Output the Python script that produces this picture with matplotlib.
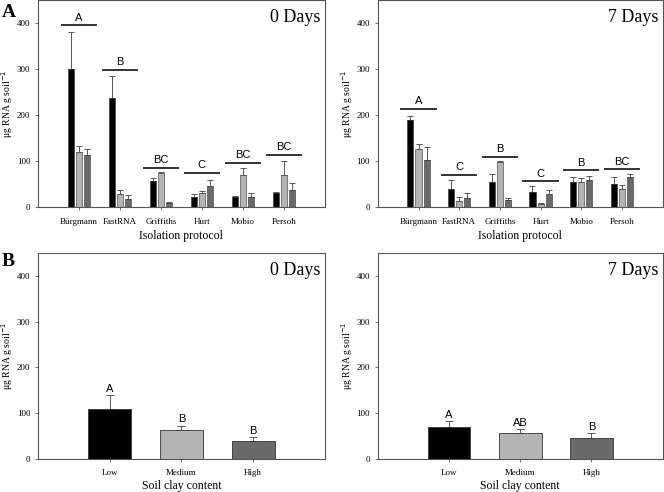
import numpy as np
import matplotlib.pyplot as plt

# panel A data: isolation protocols, three soils (low / medium / high clay)
protocols = ["Bürgmann", "FastRNA", "Griffiths", "Hurt", "Mobio", "Persoh"]

d0_low = [300, 238, 57, 23, 22, 31]
d0_low_err = [80, 46, 6, 5, 3, 2]
d0_med = [120, 28, 75, 30, 69, 69]
d0_med_err = [12, 10, 1, 6, 17, 31]
d0_high = [113, 17, 9, 45, 22, 37]
d0_high_err = [13, 10, 3, 15, 8, 15]
d0_sig = ["A", "B", "BC", "C", "BC", "BC"]
d0_sig_y = [395, 298, 85, 74, 96, 114]

d7_low = [189, 40, 55, 32, 55, 51]
d7_low_err = [10, 20, 16, 14, 10, 14]
d7_med = [126, 13, 98, 7, 55, 39]
d7_med_err = [12, 9, 2, 3, 8, 8]
d7_high = [103, 20, 15, 28, 60, 65]
d7_high_err = [27, 11, 4, 10, 8, 6]
d7_sig = ["A", "C", "B", "C", "B", "BC"]
d7_sig_y = [214, 70, 109, 56, 80, 82]

# panel B data: soil clay content
clay = ["Low", "Medium", "High"]
b0_vals = [110, 64, 39]
b0_err = [29, 9, 9]
b0_sig = ["A", "B", "B"]
b7_vals = [70, 56, 47]
b7_err = [12, 9, 10]
b7_sig = ["A", "AB", "B"]

colors = ["#000000", "#b4b4b4", "#6a6a6a"]
serif = "Liberation Serif"
sans = "Liberation Sans"

fig = plt.figure(figsize=(6.64, 4.92), dpi=100)


def style_axes(ax, nx):
    ax.set_ylim(0, 450)
    ax.set_xlim(0, nx + 1)
    ax.set_yticks([0, 100, 200, 300, 400])
    ax.set_xticks(np.arange(1, nx + 1))
    for s in ax.spines.values():
        s.set_color("#555555")
        s.set_linewidth(0.8)
    ax.tick_params(axis="both", length=2.5, width=0.6, color="#555555",
                   labelsize=6.5, pad=3)
    ax.tick_params(axis="x", pad=5)
    for lab in ax.get_yticklabels() + ax.get_xticklabels():
        lab.set_family(serif)
    ax.set_ylabel("μg RNA g soil$^{-1}$", fontsize=7, family=serif, labelpad=1)


def panel_a(ax, groups, sig, sig_y, title):
    x = np.arange(1, len(protocols) + 1)
    w = 0.15
    offs = [-0.2, 0, 0.2]
    for (vals, err), c, o in zip(groups, colors, offs):
        ax.bar(x + o, vals, w, color=c, edgecolor="#333333", linewidth=0.4, zorder=2)
        ax.errorbar(x + o, vals, yerr=[np.zeros(len(vals)), err], fmt="none",
                    ecolor="#555555", elinewidth=0.7, capsize=2.2, capthick=0.7, zorder=1)
    for xi, s, yv in zip(x, sig, sig_y):
        ax.plot([xi - 0.42, xi + 0.42], [yv, yv], color="#333333", lw=1.4)
        ax.annotate(s, (xi, yv), xytext=(0, 2), textcoords="offset points",
                    ha="center", va="bottom", fontsize=8, family=sans)
    style_axes(ax, len(protocols))
    ax.set_xticklabels(protocols)
    ax.set_xlabel("Isolation protocol", fontsize=8.5, family=serif, labelpad=3)
    ax.text(0.985, 0.955, title, transform=ax.transAxes, ha="right", va="top",
            fontsize=13, family=serif)


def panel_b(ax, vals, err, sig, title):
    x = np.arange(1, len(clay) + 1)
    ax.bar(x, vals, 0.6, color=colors, edgecolor="#333333", linewidth=0.6, zorder=2)
    ax.errorbar(x, vals, yerr=[np.zeros(len(vals)), err], fmt="none",
                ecolor="#555555", elinewidth=0.7, capsize=3, capthick=0.7, zorder=1)
    for xi, v, e, s in zip(x, vals, err, sig):
        ax.annotate(s, (xi, v + e), xytext=(0, 1), textcoords="offset points",
                    ha="center", va="bottom", fontsize=8, family=sans)
    style_axes(ax, len(clay))
    ax.set_xticklabels(clay)
    ax.set_xlabel("Soil clay content", fontsize=8.5, family=serif, labelpad=2)
    ax.text(0.985, 0.955, title, transform=ax.transAxes, ha="right", va="top",
            fontsize=13, family=serif)


ax1 = fig.add_axes([0.0572, 0.579, 0.432, 0.421])
panel_a(ax1, [(d0_low, d0_low_err), (d0_med, d0_med_err), (d0_high, d0_high_err)],
        d0_sig, d0_sig_y, "0 Days")
ax2 = fig.add_axes([0.569, 0.579, 0.429, 0.421])
panel_a(ax2, [(d7_low, d7_low_err), (d7_med, d7_med_err), (d7_high, d7_high_err)],
        d7_sig, d7_sig_y, "7 Days")
ax3 = fig.add_axes([0.0572, 0.067, 0.432, 0.419])
panel_b(ax3, b0_vals, b0_err, b0_sig, "0 Days")
ax4 = fig.add_axes([0.569, 0.067, 0.429, 0.419])
panel_b(ax4, b7_vals, b7_err, b7_sig, "7 Days")

fig.text(0.003, 0.992, "A", fontsize=14, fontweight="bold", family=serif, va="top")
fig.text(0.003, 0.485, "B", fontsize=14, fontweight="bold", family=serif, va="top")

fig.savefig("out.png", dpi=100)
